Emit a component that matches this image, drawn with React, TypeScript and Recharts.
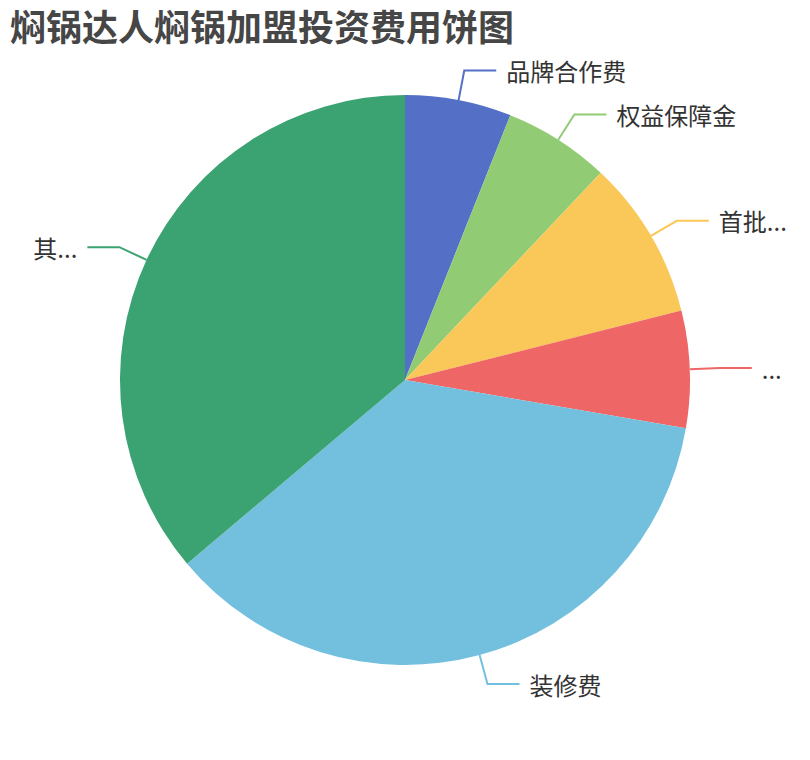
import { PieChart, Pie, Cell } from 'recharts'

// labels as they show on the chart (long names are cut off with "...")
const labels = ['品牌合作费', '权益保障金', '首批...', '...', '装修费', '其...']
const values = [2, 2, 3, 2.2, 12, 12]
const colors = ['#5470c6', '#91cc75', '#fac858', '#ee6666', '#73c0de', '#3ba272']

const title = '焖锅达人焖锅加盟投资费用饼图'

const data = labels.map((name, i) => ({ name, value: values[i] }))

const RAD = Math.PI / 180

function renderLabel(props: any) {
  const { cx, cy, midAngle, outerRadius, index } = props
  const cos = Math.cos(-midAngle * RAD)
  const sin = Math.sin(-midAngle * RAD)
  const sx = cx + outerRadius * cos
  const sy = cy + outerRadius * sin
  const mx = cx + (outerRadius + 30) * cos
  const my = cy + (outerRadius + 30) * sin
  const right = cos >= 0
  const ex = mx + (right ? 32 : -32)
  const clr = colors[index % colors.length]
  return (
    <g key={`lbl-${index}`}>
      <polyline
        points={`${sx},${sy} ${mx},${my} ${ex},${my}`}
        fill="none"
        stroke={clr}
        strokeWidth={2}
      />
      <text
        x={ex + (right ? 10 : -10)}
        y={my}
        textAnchor={right ? 'start' : 'end'}
        dominantBaseline="central"
        fill="#333"
        fontSize={24}
        fontFamily="'Noto Sans CJK SC', 'Noto Sans', sans-serif"
      >
        {labels[index]}
      </text>
    </g>
  )
}

export default function App() {
  return (
    <div style={{ position: 'absolute', left: 0, top: 0, width: 810, height: 760, background: '#fff' }}>
      <div
        style={{
          position: 'absolute',
          left: 10,
          top: 3,
          fontSize: 36,
          fontWeight: 'bold',
          color: '#464646',
          fontFamily: "'Noto Sans CJK SC', sans-serif",
          lineHeight: '44px',
          whiteSpace: 'nowrap',
        }}
      >
        {title}
      </div>
      <PieChart width={810} height={760} margin={{ top: 0, right: 0, bottom: 0, left: 0 }}>
        <Pie
          data={data}
          dataKey="value"
          nameKey="name"
          cx={405}
          cy={380}
          outerRadius={285}
          startAngle={90}
          endAngle={-270}
          stroke="none"
          label={renderLabel}
          labelLine={false}
          isAnimationActive={false}
        >
          {data.map((d, i) => (
            <Cell key={d.name + i} fill={colors[i]} />
          ))}
        </Pie>
      </PieChart>
    </div>
  )
}
